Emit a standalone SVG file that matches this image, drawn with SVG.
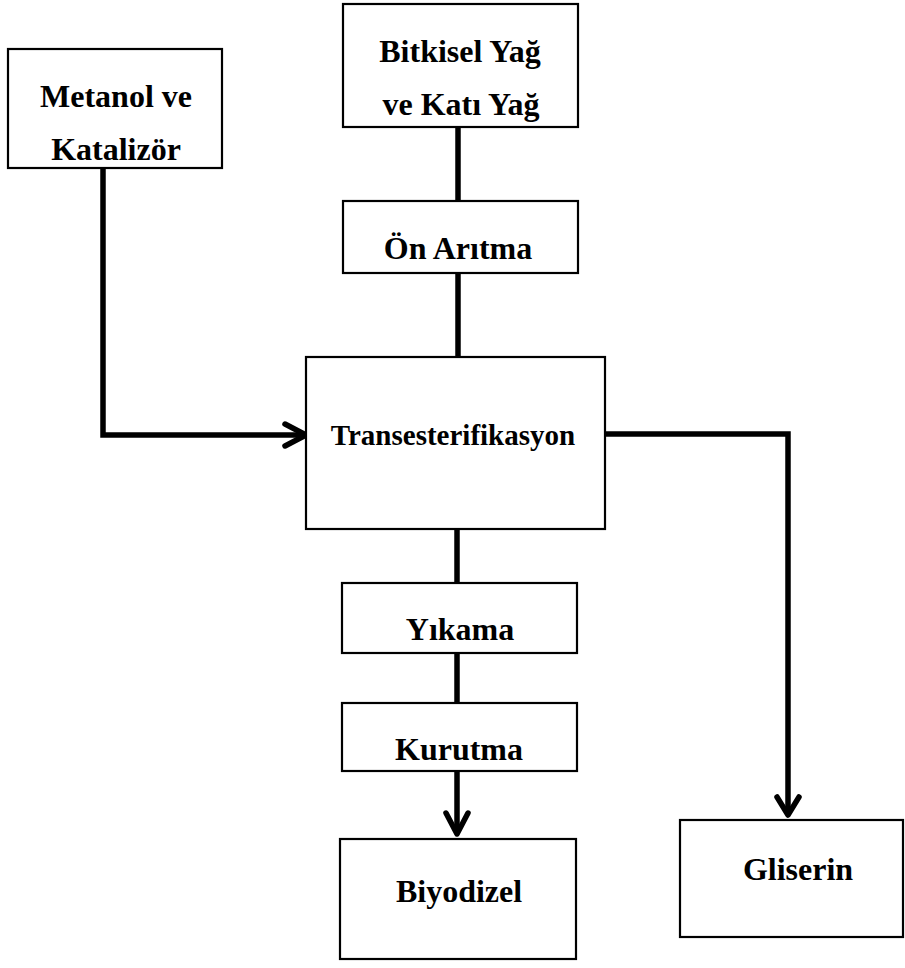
<svg xmlns="http://www.w3.org/2000/svg" width="905" height="968" viewBox="0 0 905 968">
<style>
.box{fill:#fff;stroke:#000;stroke-width:2.2}
.t{font-family:"Liberation Serif","Times New Roman",serif;font-weight:bold;font-size:32px;fill:#000;text-anchor:middle}
.c{fill:none;stroke:#000;stroke-width:5.5;stroke-linejoin:miter}
.h{fill:none;stroke:#000;stroke-width:5.5;stroke-linejoin:round;stroke-linecap:round}
</style>
<rect width="905" height="968" fill="#fff"/>
<g id="connectors">
<polyline class="c" points="103,168 103,435 304,435"/>
<polyline class="h" points="285,424 306,435 285,446"/>
<line class="c" x1="458" y1="127" x2="458" y2="201"/>
<line class="c" x1="458" y1="273" x2="458" y2="357"/>
<polyline class="c" points="605,434 788,434 788,812"/>
<polyline class="h" points="777,797 788,815 799,797"/>
<line class="c" x1="457" y1="529" x2="457" y2="583"/>
<line class="c" x1="457" y1="653" x2="457" y2="703"/>
<line class="c" x1="457" y1="771" x2="457" y2="832"/>
<polyline class="h" points="446,813 457,834 468,813"/>
</g>
<g id="metanol">
<rect class="box" x="8" y="49" width="214" height="119"/>
<text class="t" x="116" y="107">Metanol ve</text>
<text class="t" x="116" y="160">Katalizör</text>
</g>
<g id="bitkisel">
<rect class="box" x="343" y="4" width="235" height="123"/>
<text class="t" x="460" y="62">Bitkisel Yağ</text>
<text class="t" x="461" y="115">ve Katı Yağ</text>
</g>
<g id="onaritma">
<rect class="box" x="343" y="201" width="235" height="72"/>
<text class="t" x="458" y="259">Ön Arıtma</text>
</g>
<g id="trans">
<rect class="box" x="306" y="357" width="299" height="172"/>
<text class="t" x="453" y="445" style="font-size:29px">Transesterifikasyon</text>
</g>
<g id="yikama">
<rect class="box" x="342" y="583" width="235" height="70"/>
<text class="t" x="460" y="640">Yıkama</text>
</g>
<g id="kurutma">
<rect class="box" x="342" y="703" width="235" height="68"/>
<text class="t" x="459" y="760">Kurutma</text>
</g>
<g id="biyodizel">
<rect class="box" x="340" y="839" width="236" height="120"/>
<text class="t" x="459" y="902">Biyodizel</text>
</g>
<g id="gliserin">
<rect class="box" x="680" y="820" width="223" height="117"/>
<text class="t" x="798" y="880">Gliserin</text>
</g>
</svg>
